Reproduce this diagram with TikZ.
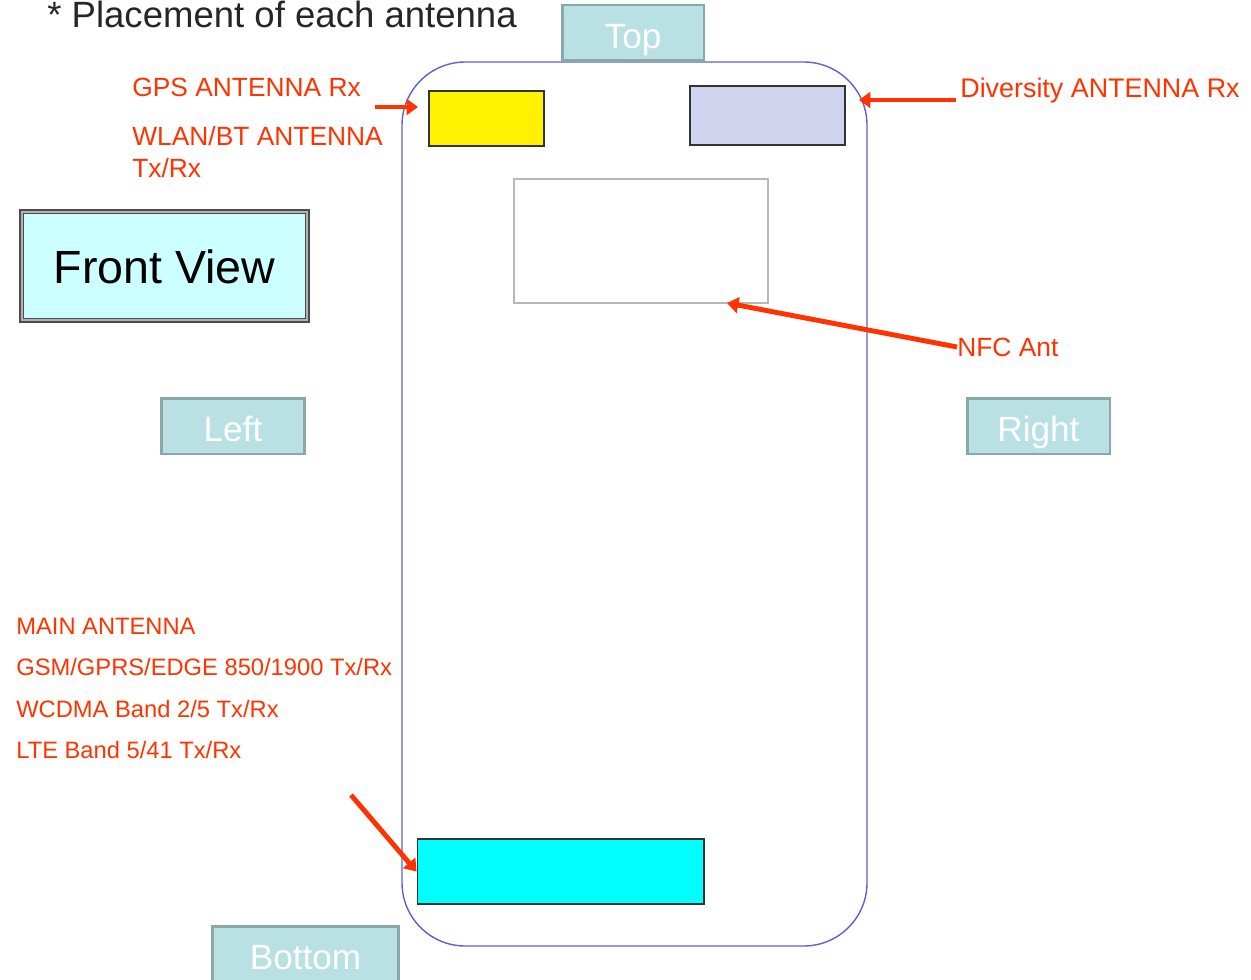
\documentclass[tikz,border=0pt]{standalone}
\usepackage{fontspec}
\setmainfont{Liberation Sans}
\usetikzlibrary{arrows.meta}

\definecolor{antred}{RGB}{255,51,0}
\definecolor{sidefill}{RGB}{185,224,227}
\definecolor{sidedraw}{RGB}{138,168,168}
\definecolor{bodyblue}{RGB}{95,95,215}
\definecolor{viewfill}{RGB}{204,255,255}
\definecolor{divfill}{RGB}{208,211,238}
\definecolor{mainfill}{RGB}{0,255,255}

\begin{document}
\begin{tikzpicture}[
    x=0.02cm, y=-0.02cm,
    side/.style={draw=sidedraw, fill=sidefill, line width=1.7pt, text=white, font=\fontsize{20}{24}\selectfont,
                 text height=18pt, text depth=0pt, minimum height=1.12cm, inner sep=0pt},
    antbox/.style={draw=black!80, line width=0.6pt, inner sep=0pt},
    redtext/.style={text=antred, font=\fontsize{15}{18}\selectfont, anchor=west, inner sep=0pt},
    pointer/.style={draw=antred, line width=2.8pt, -{Triangle[length=6.5pt,width=9pt]}}
]
    \useasboundingbox (0,0) rectangle (1251,980);
    \clip (0,0) rectangle (1251,980);

    % ==================== TITLE ====================
    \node[anchor=base west, inner sep=0pt, text=black!85, font=\fontsize{20.8}{24}\selectfont] (title) at (47,27.5) {* Placement of each antenna};

    % ==================== PHONE BODY ====================
    \draw[bodyblue, line width=0.8pt, rounded corners=36pt] (402,62) rectangle (867,946);

    % Side tags
    \node[side, minimum width=2.84cm] (top) at (633,33) {Top};
    \node[side, minimum width=2.88cm] (left) at (233,426) {Left};
    \node[side, minimum width=2.86cm] (right) at (1038.5,426) {Right};
    \node[side, minimum width=3.74cm] (bottom) at (305.5,954) {Bottom};

    % View tag
    \node[draw=black!70, double=black!30, double distance=1.4pt, line width=0.8pt, fill=viewfill,
          minimum width=5.71cm, minimum height=2.17cm, font=\fontsize{26.5}{30}\selectfont,
          text height=20pt, text depth=0pt] (view) at (164.5,266) {Front View};

    % Antenna areas
    \node[antbox, fill=yellow, minimum width=2.30cm, minimum height=1.10cm] (gps) at (486.5,118.5) {};
    \node[antbox, fill=divfill, minimum width=3.10cm, minimum height=1.18cm] (div) at (767.5,115.5) {};
    \node[draw=black!28, line width=1.6pt, fill=white, minimum width=5.08cm, minimum height=2.48cm] (nfc) at (641,241) {};
    \node[antbox, fill=mainfill, minimum width=5.74cm, minimum height=1.30cm] (main) at (560.5,871.5) {};

    % ==================== LABELS ====================
    \node[redtext] (gpsText) at (132,87) {GPS ANTENNA Rx};
    \node[redtext, align=left, font=\fontsize{15}{18.2}\selectfont] (wlanText) at (132,152) {WLAN/BT ANTENNA\\Tx/Rx};
    \node[redtext, font=\fontsize{15.3}{18}\selectfont] (divText) at (960,91) {Diversity ANTENNA Rx};
    \node[redtext] (nfcText) at (957,347) {NFC Ant};
    \node[redtext, align=left, font=\fontsize{13.5}{23.6}\selectfont] (mainText) at (16,688.5)
        {MAIN ANTENNA\\GSM/GPRS/EDGE 850/1900 Tx/Rx\\WCDMA Band 2/5 Tx/Rx\\LTE Band 5/41 Tx/Rx};

    % ==================== POINTERS ====================
    \coordinate (gpsTail) at (375,107);
    \coordinate (gpsTip) at (418,107);
    \coordinate (divTail) at (956,100);
    \coordinate (divTip) at (859,100);
    \coordinate (nfcTip) at (727,303);
    \coordinate (mainTail) at (351,795);

    \draw[pointer] (gpsTail) -- (gpsTip);
    \draw[pointer] (divTail) -- (divTip);
    \draw[pointer] (nfcText.west) -- (nfcTip);
    \draw[pointer] (mainTail) -- (main.west);

\end{tikzpicture}
\end{document}
